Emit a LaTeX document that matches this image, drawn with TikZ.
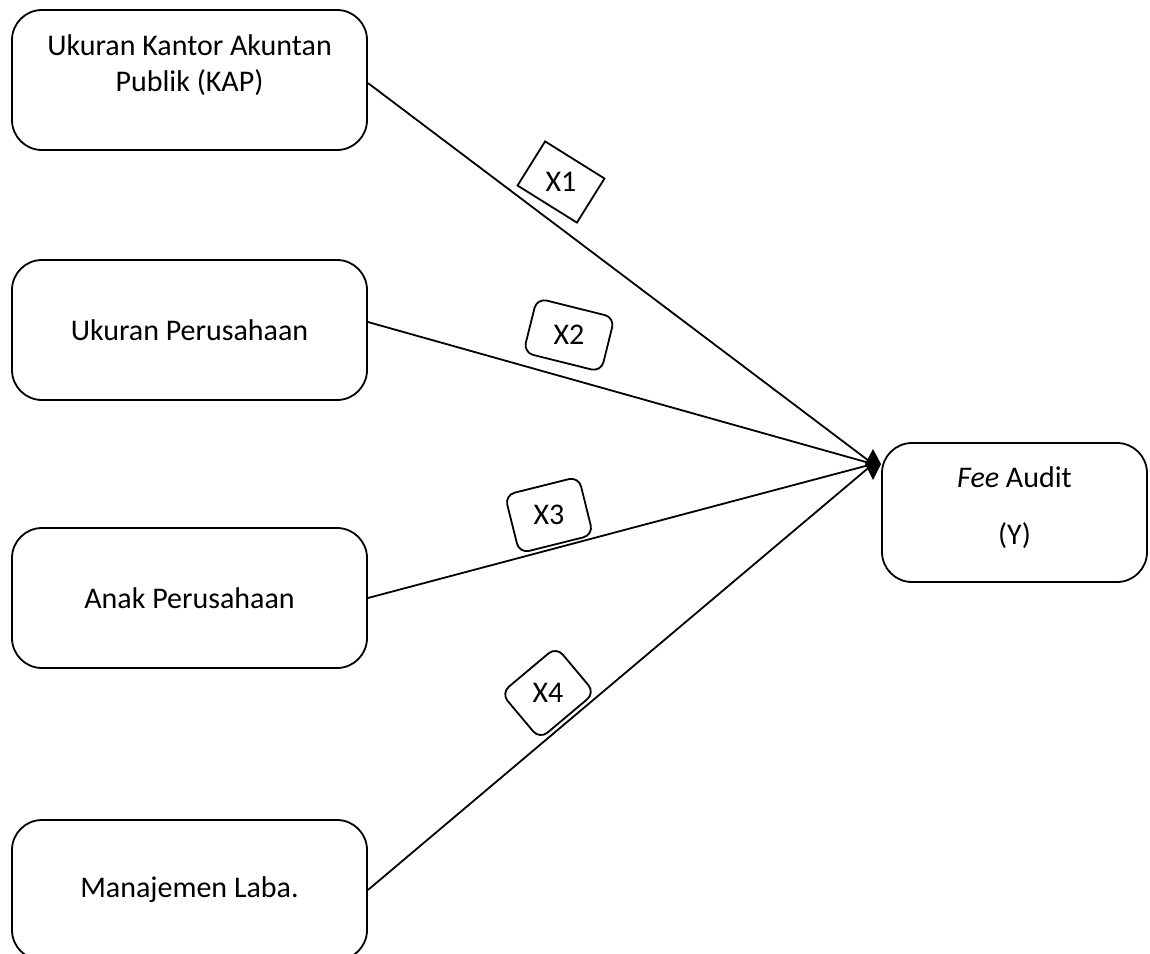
\documentclass[tikz,border=0pt]{standalone}
\usepackage{fontspec}
\setmainfont{Carlito}
\begin{document}
\begin{tikzpicture}[x=1pt,y=-1pt,
  box/.style={draw, line width=1.8pt, rounded corners=30pt, minimum width=355pt, minimum height=140pt, align=center, font=\fontsize{30}{36}\selectfont, inner sep=0pt},
  txt/.style={align=center, font=\fontsize{30}{36}\selectfont, inner sep=0pt},
  lbl/.style={draw, line width=1.8pt, inner sep=0pt},
  lbltext/.style={font=\fontsize{30}{36}\selectfont},
  conn/.style={line width=1.8pt}]
\useasboundingbox (0,0) rectangle (1150,953);
\clip (0,0) rectangle (1150,953);
\node[box] (a) at (189.5,80) {};
\node[txt, yshift=15pt] (at) at (a) {Ukuran Kantor Akuntan\\Publik (KAP)};
\node[box] (b) at (189.5,330) {Ukuran Perusahaan};
\node[box] (c) at (189.5,598) {Anak Perusahaan};
\node[box] (d) at (189.5,890) {Manajemen Laba.};
\node[box, minimum width=265pt, minimum height=139pt] (y) at (1014.5,512.5) {};
\node[txt, yshift=5pt] (yt) at (y) {\textit{Fee} Audit\\[21pt](Y)};
\coordinate (tip) at (873,464);
\draw[conn] (a.east) ++(0,3) -- (tip);
\draw[conn] (b.east) ++(0,-8) -- (tip);
\draw[conn] (c.east) -- (tip);
\draw[conn] (d.east) -- (tip);
\fill (tip) ++(-8,0) -- ++(8,-15) -- ++(8,15) -- ++(-8,16) -- cycle;
\node[lbl, minimum width=70pt, minimum height=52pt, rotate=-32] (l1) at (561,182) {};
\node[lbltext] at (l1) {X1};
\node[lbl, rounded corners=10pt, minimum width=80pt, minimum height=56pt, rotate=-14] (l2) at (569,335) {};
\node[lbltext] at (l2) {X2};
\node[lbl, rounded corners=10pt, minimum width=76pt, minimum height=60pt, rotate=14] (l3) at (549,515) {};
\node[lbltext] at (l3) {X3};
\node[lbl, rounded corners=10pt, minimum width=72pt, minimum height=60pt, rotate=40] (l4) at (548,693) {};
\node[lbltext] at (l4) {X4};
\end{tikzpicture}
\end{document}
